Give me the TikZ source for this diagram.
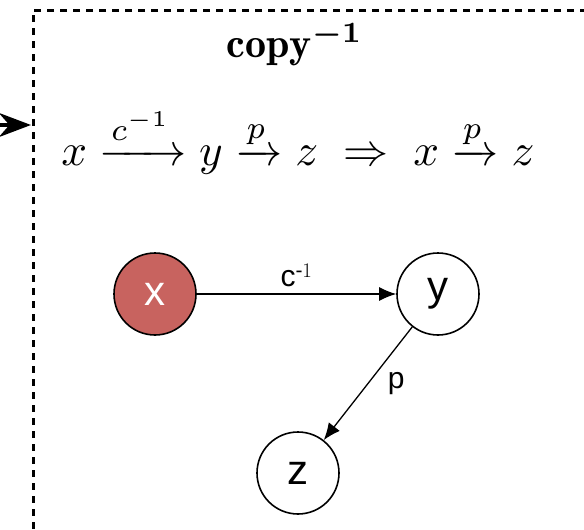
\documentclass[tikz,border=0pt]{standalone}
\usepackage{fontspec}
\usepackage{amsmath}
\newfontfamily\nodefont{Liberation Sans}
\usetikzlibrary{arrows.meta}
\definecolor{startred}{HTML}{C8635F}

\begin{document}
\begin{tikzpicture}[
  x=1pt, y=-1pt,
  state/.style={draw, circle, line width=1.6pt, minimum size=82pt, inner sep=0pt,
    font=\nodefont\fontsize{42}{44}\selectfont},
  start/.style={state, fill=startred, text=white},
  edge/.style={-{Latex[length=17pt, width=14pt]}, line width=1.3pt},
  elabel/.style={font=\nodefont\fontsize{30}{32}\selectfont},
  frame/.style={line width=3pt, dash pattern=on 7pt off 6pt},
]
\useasboundingbox (0,0) rectangle (584,530);
\clip (0,0) rectangle (584,530);
% enclosing frame
\draw[frame] (600,10) -- (33,10) -- (33,545);
\coordinate (inl) at (-8,125);
\coordinate (inr) at (31,125);
\draw[-{Stealth[length=32pt, width=24pt]}, line width=4pt] (inl) -- (inr);
% rule
\node (title) at (295,44) {\resizebox{136pt}{!}{$\mathbf{copy}^{\boldsymbol{-1}}$}};
\node (rule) at (298,141) {\resizebox{473pt}{!}{%
  $x \xrightarrow{c^{-1}} y \xrightarrow{p} z \;\Rightarrow\; x \xrightarrow{p} z$}};
% graph
\node[start] (nx) at (155,294) {x};
\node[state] (ny) at (438,294) {y};
\node[state] (nz) at (298,473) {z};
\draw[edge] (nx) -- node[elabel, above=3pt] {c$^{\text{-}1}$} (ny);
\draw[edge] (ny) -- node[elabel, right=16pt] {p} (nz);
\end{tikzpicture}
\end{document}
